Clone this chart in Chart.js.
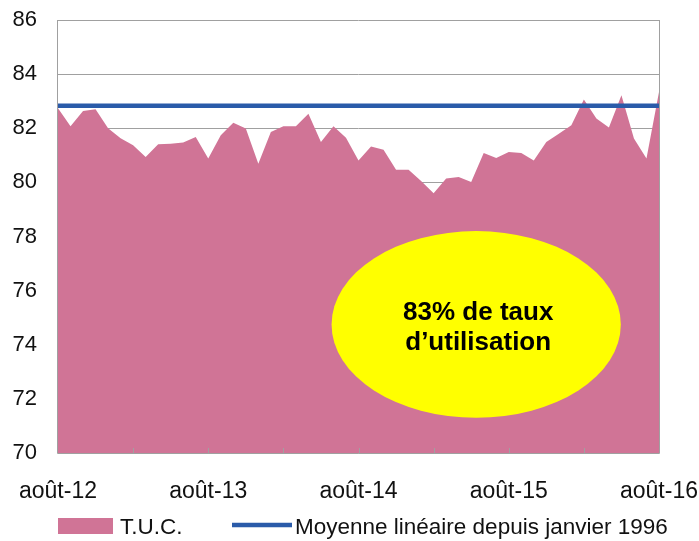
<!DOCTYPE html>
<html>
<head>
<meta charset="utf-8">
<script src="https://cdn.jsdelivr.net/npm/chart.js@4.4.0/dist/chart.umd.min.js"></script>
<style>
  html, body { margin: 0; padding: 0; background: #fff; }
  #wrap { width: 699px; height: 541px; }
</style>
</head>
<body>
<div id="wrap"><canvas id="chart" width="699" height="541"></canvas></div>
<script>
// Taux d'utilisation des capacités, mensuel, août 2012 -> août 2016
const months = [
  "août-12", "sept-12", "oct-12", "nov-12", "déc-12",
  "janv-13", "févr-13", "mars-13", "avr-13", "mai-13", "juin-13", "juil-13", "août-13", "sept-13", "oct-13", "nov-13", "déc-13",
  "janv-14", "févr-14", "mars-14", "avr-14", "mai-14", "juin-14", "juil-14", "août-14", "sept-14", "oct-14", "nov-14", "déc-14",
  "janv-15", "févr-15", "mars-15", "avr-15", "mai-15", "juin-15", "juil-15", "août-15", "sept-15", "oct-15", "nov-15", "déc-15",
  "janv-16", "févr-16", "mars-16", "avr-16", "mai-16", "juin-16", "juil-16", "août-16"
];
const tuc = [
  82.74, 82.07, 82.64, 82.70, 82.00, 81.63, 81.37, 80.94, 81.41, 81.43, 81.47, 81.68,
  80.88, 81.74, 82.20, 81.99, 80.69, 81.86, 82.07, 82.07, 82.54, 81.49, 82.07, 81.65,
  80.81, 81.33, 81.21, 80.47, 80.47, 80.05, 79.60, 80.14, 80.20, 80.01, 81.09, 80.90,
  81.12, 81.09, 80.81, 81.49, 81.80, 82.11, 83.06, 82.36, 82.03, 83.22, 81.62, 80.88,
  83.34
];
const moyenne = 82.83;
const moyenneSerie = months.map(() => moyenne);
const xTickLabels = ["août-12", "août-13", "août-14", "août-15", "août-16"];
const yMin = 70, yMax = 86, yStep = 2;
const bulleTexte = ["83% de taux", "d’utilisation"];
const legendTexte = ["T.U.C.", "Moyenne linéaire depuis janvier 1996"];

const rose = "#d07496";
const bleu = "#2a5ba9";
const gris = "#a0a0a0";
const police = "'Liberation Sans', Arial, sans-serif";

// cadre du graphique + petites graduations vers l'intérieur + bulle jaune + légende
const cadre = {
  id: "cadre",
  afterDatasetsDraw(chart) {
    const { ctx, chartArea: a, scales: { x, y } } = chart;
    ctx.save();
    ctx.strokeStyle = gris;
    ctx.lineWidth = 1;
    ctx.beginPath();
    ctx.moveTo(a.left - 0.5, a.top);
    ctx.lineTo(a.left - 0.5, a.bottom + 0.5);
    ctx.lineTo(a.right + 0.5, a.bottom + 0.5);
    ctx.lineTo(a.right + 0.5, a.top);
    for (let i = 6; i < months.length - 1; i += 6) {
      const px = Math.round(x.getPixelForValue(i)) + 0.5;
      ctx.moveTo(px, a.bottom);
      ctx.lineTo(px, a.bottom - 5);
    }
    ctx.stroke();

    // bulle, placée en coordonnées de données
    const cx = x.getPixelForValue(33.4);
    const cy = y.getPixelForValue(74.75);
    const rx = x.getPixelForValue(33.4 + 11.55) - cx;
    const ry = cy - y.getPixelForValue(74.75 + 3.45);
    ctx.fillStyle = "#ffff00";
    ctx.beginPath();
    ctx.ellipse(cx, cy, rx, ry, 0, 0, Math.PI * 2);
    ctx.fill();

    ctx.fillStyle = "#000";
    ctx.font = "bold 26px " + police;
    ctx.textAlign = "center";
    ctx.textBaseline = "alphabetic";
    ctx.fillText(bulleTexte[0], cx + 2, cy - 4);
    ctx.fillText(bulleTexte[1], cx + 2, cy + 26);
    ctx.restore();
  },
  afterDraw(chart) {
    const { ctx, chartArea: a } = chart;
    const ly = a.bottom + 73;
    ctx.save();
    ctx.fillStyle = rose;
    ctx.fillRect(a.left, ly - 8, 55, 16);
    ctx.strokeStyle = bleu;
    ctx.lineWidth = 4.5;
    ctx.beginPath();
    ctx.moveTo(a.left + 174, ly - 1);
    ctx.lineTo(a.left + 234, ly - 1);
    ctx.stroke();
    ctx.fillStyle = "#111";
    ctx.font = "22.5px " + police;
    ctx.textAlign = "left";
    ctx.textBaseline = "alphabetic";
    ctx.fillText(legendTexte[0], a.left + 62, ly + 8);
    ctx.fillText(legendTexte[1], a.left + 237, ly + 8);
    ctx.restore();
  }
};

new Chart(document.getElementById("chart"), {
  type: "line",
  data: {
    labels: months,
    datasets: [
      {
        label: legendTexte[0],
        data: tuc,
        borderWidth: 0,
        borderColor: rose,
        backgroundColor: rose,
        fill: "start",
        pointRadius: 0,
        tension: 0,
        order: 2
      },
      {
        label: legendTexte[1],
        data: moyenneSerie,
        borderWidth: 4.5,
        borderColor: bleu,
        backgroundColor: bleu,
        fill: false,
        pointRadius: 0,
        tension: 0,
        order: 1
      }
    ]
  },
  options: {
    responsive: false,
    animation: false,
    layout: { padding: { left: 0, right: 40, top: 20, bottom: 0 } },
    scales: {
      x: {
        grid: { display: false },
        border: { display: false },
        ticks: {
          autoSkip: false,
          maxRotation: 0,
          padding: 17,
          color: "#111",
          font: { family: police, size: 23 },
          callback: (v, i) => xTickLabels.includes(months[i]) ? months[i] : null
        },
        afterFit: (s) => { s.height = 88; s.paddingLeft = 0; s.paddingRight = 0; }
      },
      y: {
        min: yMin,
        max: yMax,
        grid: { color: gris, drawTicks: false },
        border: { display: false },
        ticks: {
          stepSize: yStep,
          padding: 21,
          color: "#111",
          font: { family: police, size: 22 }
        },
        afterFit: (s) => { s.width = 58; s.paddingTop = 0; s.paddingBottom = 0; }
      }
    },
    plugins: {
      tooltip: { enabled: false },
      legend: { display: false }
    }
  },
  plugins: [cadre]
});
</script>
</body>
</html>
